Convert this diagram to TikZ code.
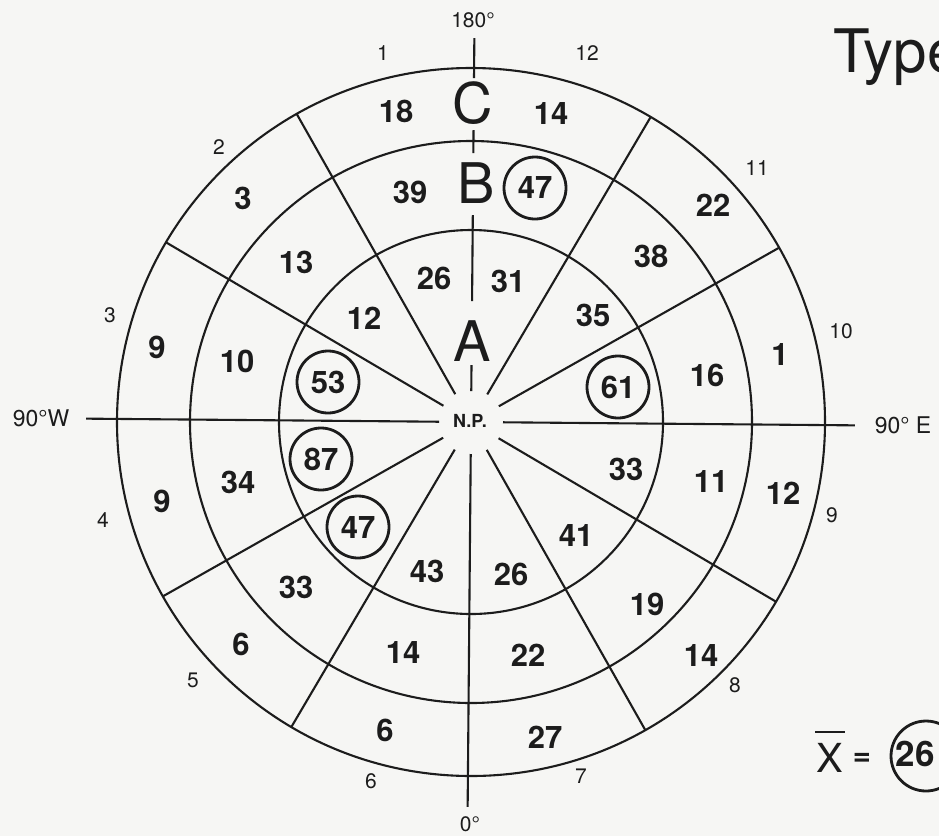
\documentclass[tikz,border=0pt]{standalone}
\usepackage{fontspec}
\setmainfont{TeX Gyre Heros}
\usetikzlibrary{calc}
\definecolor{paper}{RGB}{246,246,244}
\definecolor{ink}{RGB}{28,28,28}
\begin{document}
\begin{tikzpicture}[x=1pt,y=-1pt,
  ring/.style={line width=2.1pt, draw=ink},
  spoke/.style={line width=2.1pt, draw=ink},
  val/.style={font=\fontsize{31}{31}\selectfont\bfseries, text=ink, inner sep=0pt},
  cval/.style={val, draw=ink, circle, line width=2.8pt, minimum size=62pt},
  hand/.style={font=\fontsize{21}{21}\selectfont, text=ink, inner sep=0pt},
  big/.style={font=\fontsize{56}{56}\selectfont, text=ink, inner sep=0pt}]
\useasboundingbox (0,0) rectangle (939,836);
\clip (0,0) rectangle (939,836);
\fill[paper] (0,0) rectangle (939,836);
\coordinate (c) at (471,422);
% rings
\draw[ring] (c) circle[radius=192];
\draw[ring] (c) circle[radius=281];
\draw[ring] (c) circle[radius=354];
% diagonal spokes
\foreach \a in {30,60,120,150,210,240,300,330}
  \draw[spoke] ($(c)+({\a+0.5}:32)$) -- ($(c)+({\a+0.5}:354)$);
% axes
\draw[spoke] ($(c)+(0.5:32)$) -- ($(c)+(0.5:384)$);
\draw[spoke] ($(c)+(180.5:32)$) -- ($(c)+(180.5:385)$);
\draw[spoke] ($(c)+(90.5:32)$) -- ($(c)+(90.5:385)$);
\draw[spoke] ($(c)+(-89.5:384)$) -- ($(c)+(-89.5:344)$);
\draw[spoke] ($(c)+(-89.5:292)$) -- ($(c)+(-89.5:269)$);
\draw[spoke] ($(c)+(-89.5:207)$) -- ($(c)+(-89.5:121)$);
\draw[spoke] ($(c)+(-89.5:57)$) -- ($(c)+(-89.5:31)$);
% centre
\node[font=\fontsize{18}{18}\selectfont\bfseries, text=ink, inner sep=0pt] (np) at (470,421) {N.P.};
% letters
\node[big] (la) at (472,341) {A};
\node[big] (lb) at (476,183) {B};
\node[big] (lc) at (473,103) {C};
% outer ring values
\node[val] (o1) at (396,111) {18};
\node[val] (o2) at (551,114) {14};
\node[val] (o3) at (243,198) {3};
\node[val] (o4) at (713,205) {22};
\node[val] (o5) at (157,347) {9};
\node[val] (o6) at (780,355) {1};
\node[val] (o7) at (162,501) {9};
\node[val] (o8) at (783,493) {12};
\node[val] (o9) at (241,644) {6};
\node[val] (o10) at (701,655) {14};
\node[val] (o11) at (385,730) {6};
\node[val] (o12) at (545,737) {27};
% middle ring values
\node[val] (m1) at (410,192) {39};
\node[cval] (m2) at (535,188) {47};
\node[val] (m3) at (296,262) {13};
\node[val] (m4) at (651,256) {38};
\node[val] (m5) at (237,361) {10};
\node[val] (m6) at (707,375) {16};
\node[val] (m7) at (238,482) {34};
\node[val] (m8) at (711,482) {11};
\node[val] (m9) at (296,587) {33};
\node[val] (m10) at (647,604) {19};
\node[val] (m11) at (403,652) {14};
\node[val] (m12) at (528,655) {22};
% inner ring values
\node[val] (i1) at (434,278) {26};
\node[val] (i2) at (508,281) {31};
\node[val] (i3) at (364,318) {12};
\node[val] (i4) at (593,315) {35};
\node[cval] (i5) at (328,382) {53};
\node[cval] (i6) at (618,387) {61};
\node[cval] (i7) at (321,459) {87};
\node[val] (i8) at (626,469) {33};
\node[cval] (i9) at (358,527) {47};
\node[val] (i10) at (576,535) {41};
\node[val] (i11) at (427,571) {43};
\node[val] (i12) at (511,574) {26};
% sector numbers and directions
\node[hand] (s1) at (383,53) {1};
\node[hand] (s12) at (587,53) {12};
\node[hand] (s2) at (219,147) {2};
\node[hand] (s11) at (757,168) {11};
\node[hand] (s3) at (110,315) {3};
\node[hand] (s10) at (841,331) {10};
\node[hand] (s4) at (103,520) {4};
\node[hand] (s9) at (832,515) {9};
\node[hand] (s5) at (193,680) {5};
\node[hand] (s8) at (735,685) {8};
\node[hand] (s6) at (371,781) {6};
\node[hand] (s7) at (581,776) {7};
\node[hand] (d180) at (473,20) {180°};
\node[hand] (d0) at (470,824) {0°};
\node[hand, font=\fontsize{23}{23}\selectfont] (dw) at (41,418) {90°W};
\node[hand, font=\fontsize{23}{23}\selectfont] (de) at (903,425) {90° E};
% title
\node[anchor=base west, font=\fontsize{60}{60}\selectfont, text=ink, inner sep=0pt] (title) at (833,72) {Type};
% mean
\node[font=\fontsize{40}{40}\selectfont, text=ink, inner sep=0pt] (xb) at (830,758) {X};
\draw[line width=2.6pt, ink] (815,732) -- (845,732);
\node[val] (eq) at (862,759) {=};
\node[font=\fontsize{35}{35}\selectfont\bfseries, text=ink, inner sep=0pt] (mean) at (915,754) {26};
\draw[line width=2.8pt, ink] (926,756) circle[radius=35];
\end{tikzpicture}
\end{document}
